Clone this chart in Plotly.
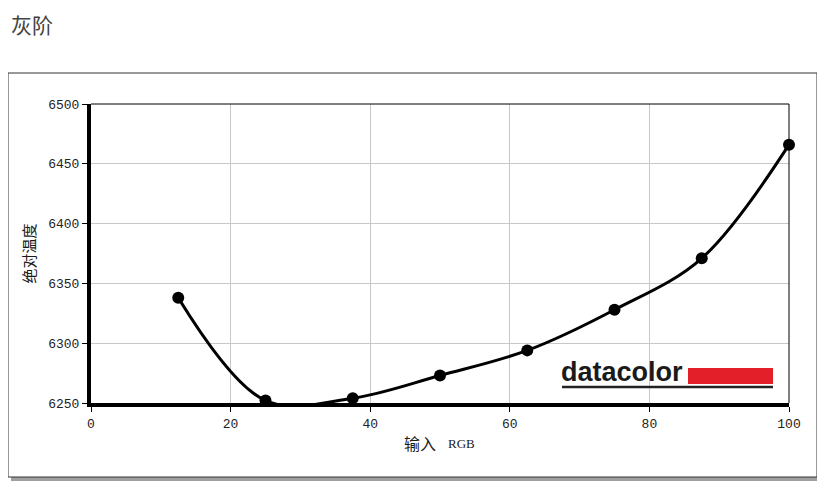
import plotly.graph_objects as go

# input RGB (%) vs absolute colour temperature (K)
rgb_input = [12.5, 25, 37.5, 50, 62.5, 75, 87.5, 100]
abs_temp = [6338, 6252, 6254, 6273, 6294, 6328, 6371, 6466]

x_ticks = [0, 20, 40, 60, 80, 100]
y_ticks = [6250, 6300, 6350, 6400, 6450, 6500]

W, H = 825, 504
OFF = 8  # page body margin
L, R, T, B = 91 - OFF, 789 - OFF, 104 - OFF, 403 - OFF  # plot area in pixels


def px(x):
    return (x - OFF - L) / (R - L)


def py(y):
    return (B - (y - OFF)) / (B - T)


fig = go.Figure()

fig.add_trace(go.Scatter(
    x=rgb_input, y=abs_temp,
    mode="lines+markers",
    line=dict(color="black", width=3, shape="spline"),
    marker=dict(color="black", size=12),
    cliponaxis=False,
    hoverinfo="x+y",
))

shapes = [
    # card shadow + card
    dict(type="rect", xref="paper", yref="paper",
         x0=px(11), x1=px(821), y0=py(76), y1=py(481),
         fillcolor="#a0a0a0", line=dict(width=0), layer="below"),
    dict(type="rect", xref="paper", yref="paper",
         x0=px(8), x1=px(817), y0=py(73), y1=py(477),
         fillcolor="white", line=dict(color="#333", width=1), layer="below"),
    # thin top and right frame
    dict(type="line", xref="paper", yref="paper", x0=0, x1=1, y0=1, y1=1,
         line=dict(color="black", width=1)),
    dict(type="line", xref="paper", yref="paper", x0=1, x1=1, y0=0, y1=1,
         line=dict(color="black", width=1)),
    # datacolor logo bar + underline
    dict(type="rect", xref="paper", yref="paper",
         x0=px(688), x1=px(773), y0=py(384), y1=py(368),
         fillcolor="#e3202a", line=dict(width=0)),
    dict(type="line", xref="paper", yref="paper",
         x0=px(562), x1=px(773), y0=py(387), y1=py(387),
         line=dict(color="#222", width=2.5)),
]

annotations = [
    dict(text="灰阶", xref="paper", yref="paper", x=px(9), y=py(24),
         xanchor="left", yanchor="middle", showarrow=False,
         font=dict(family="Noto Sans CJK SC", size=21, color="#444")),
    dict(text="<b>datacolor</b>", xref="paper", yref="paper", x=px(559), y=py(372),
         xanchor="left", yanchor="middle", showarrow=False,
         font=dict(family="Liberation Sans", size=27, color="#1a1a1a")),
    # x axis title: CJK part + serif "RGB"
    dict(text="输入", xref="paper", yref="paper", x=px(438), y=py(443),
         xanchor="right", yanchor="middle", showarrow=False,
         font=dict(family="Noto Sans CJK SC", size=16, color="#1a1a1a")),
    dict(text="RGB", xref="paper", yref="paper", x=px(446), y=py(443),
         xanchor="left", yanchor="middle", showarrow=False,
         font=dict(family="Liberation Serif", size=13, color="#222")),
]

tick_font = dict(family="Liberation Mono", size=13, color="#222")

fig.update_layout(
    width=W, height=H,
    margin=dict(l=L, r=W - R, t=T, b=H - B),
    paper_bgcolor="white",
    plot_bgcolor="rgba(0,0,0,0)",
    showlegend=False,
    shapes=shapes,
    annotations=annotations,
    xaxis=dict(
        range=[0, 100], tickvals=x_ticks, tickfont=tick_font,
        showgrid=True, gridcolor="#c8c8c8", gridwidth=1, zeroline=False,
        showline=True, linecolor="black", linewidth=4,
        ticks="outside", ticklen=5, tickcolor="black", tickwidth=1,
    ),
    yaxis=dict(
        range=[6250, 6500], tickvals=y_ticks, tickfont=tick_font,
        showgrid=True, gridcolor="#c8c8c8", gridwidth=1, zeroline=False,
        showline=True, linecolor="black", linewidth=4,
        ticks="outside", ticklen=5, tickcolor="black", tickwidth=1,
        title=dict(text="绝对温度", standoff=10,
                   font=dict(family="Noto Sans CJK SC", size=15, color="#1a1a1a")),
    ),
)

fig.write_html("out.html")
